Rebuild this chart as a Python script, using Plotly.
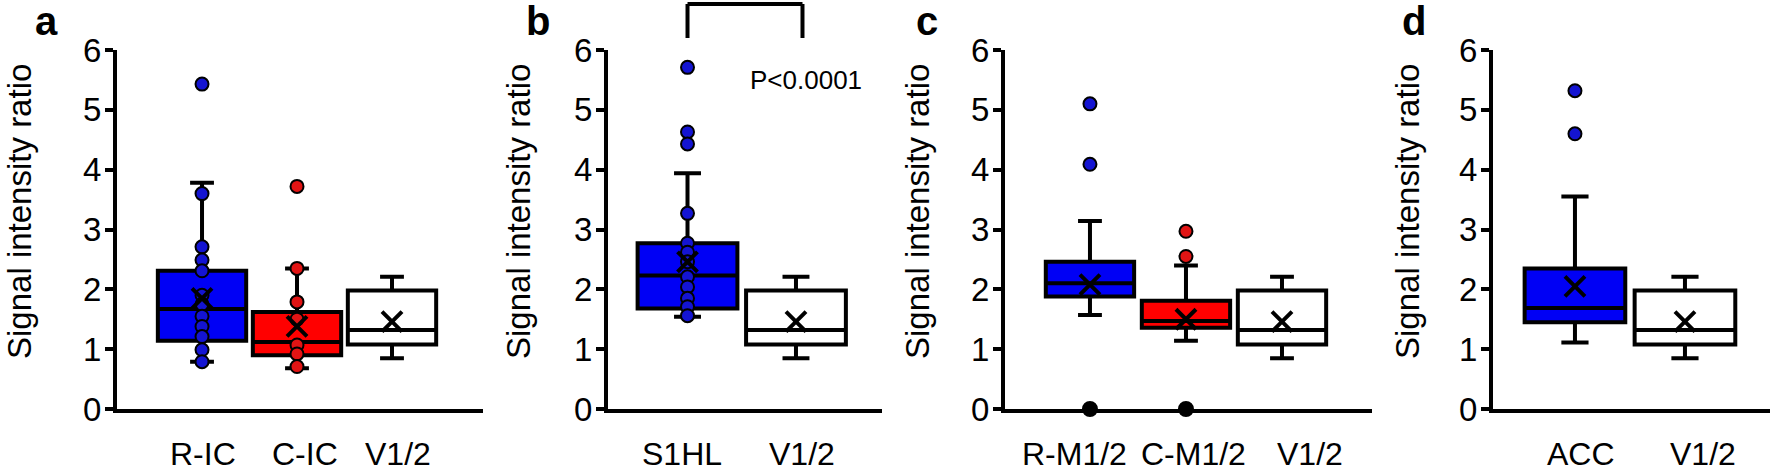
import plotly.graph_objects as go

FONT = "Liberation Sans, Arial, sans-serif"
BLUE = "rgb(0,0,245)"
RED = "rgb(255,0,0)"
WHITE = "white"
BLUE_PT = "rgb(20,20,210)"
RED_PT = "rgb(225,20,20)"

# ---------------- data ----------------
# panel a
cats_a = ["R-IC", "C-IC", "V1/2"]
q1_a = [1.14, 0.90, 1.08]
med_a = [1.67, 1.12, 1.32]
q3_a = [2.31, 1.62, 1.98]
lo_a = [0.79, 0.68, 0.85]
hi_a = [3.78, 2.35, 2.21]
mean_a = [1.85, 1.38, 1.46]
pts_a_ric = [5.43, 3.60, 2.71, 2.49, 2.31, 1.90, 1.75, 1.55, 1.38, 1.21, 0.99, 0.79]
pts_a_cic = [3.72, 2.35, 1.79, 1.50, 1.07, 0.92, 0.71]

# panel b
cats_b = ["S1HL", "V1/2"]
q1_b = [1.68, 1.08]
med_b = [2.23, 1.32]
q3_b = [2.77, 1.98]
lo_b = [1.54, 0.85]
hi_b = [3.94, 2.21]
mean_b = [2.46, 1.46]
pts_b_s1hl = [5.71, 4.63, 4.43, 3.27, 2.77, 2.62, 2.46, 2.21, 2.04, 1.85, 1.71, 1.56]
p_text = "P<0.0001"

# panel c
cats_c = ["R-M1/2", "C-M1/2", "V1/2"]
q1_c = [1.88, 1.36, 1.08]
med_c = [2.10, 1.47, 1.32]
q3_c = [2.46, 1.81, 1.98]
lo_c = [1.57, 1.14, 0.85]
hi_c = [3.14, 2.40, 2.21]
mean_c = [2.08, 1.50, 1.46]
out_c_rm = [5.10, 4.09]
out_c_cm = [2.97, 2.55]
zero_c_cats = ["R-M1/2", "C-M1/2"]
zero_c = [0.0, 0.0]

# panel d
cats_d = ["ACC", "V1/2"]
q1_d = [1.45, 1.08]
med_d = [1.69, 1.32]
q3_d = [2.35, 1.98]
lo_d = [1.11, 0.85]
hi_d = [3.55, 2.21]
mean_d = [2.05, 1.46]
out_d_acc = [5.32, 4.60]

y_ticks = [0, 1, 2, 3, 4, 5, 6]
y_title = "Signal intensity ratio"
panel_letters = ["a", "b", "c", "d"]

# ---------------- layout geometry ----------------
W, H = 1770, 473
Y_TOP_PX, Y_BOT_PX = 50, 409
ydom = [1 - Y_BOT_PX / H, 1 - Y_TOP_PX / H]

panels = [
    dict(cats=cats_a, q1=q1_a, med=med_a, q3=q3_a, lo=lo_a, hi=hi_a, mean=mean_a,
         fills=[BLUE, RED, WHITE], xpx=(117, 483), rng=[-0.895, 2.958], bw=0.93,
         label_dx=[0.01, 0.08, 0.06], title_x=20, letter_x=46),
    dict(cats=cats_b, q1=q1_b, med=med_b, q3=q3_b, lo=lo_b, hi=hi_b, mean=mean_b,
         fills=[BLUE, WHITE], xpx=(608, 882), rng=[-0.733, 1.793], bw=0.92,
         label_dx=[-0.055, 0.055], title_x=519, letter_x=538),
    dict(cats=cats_c, q1=q1_c, med=med_c, q3=q3_c, lo=lo_c, hi=hi_c, mean=mean_c,
         fills=[BLUE, RED, WHITE], xpx=(1005, 1372), rng=[-0.885, 2.9375], bw=0.92,
         label_dx=[-0.16, 0.08, 0.29], title_x=918, letter_x=927),
    dict(cats=cats_d, q1=q1_d, med=med_d, q3=q3_d, lo=lo_d, hi=hi_d, mean=mean_d,
         fills=[BLUE, WHITE], xpx=(1493, 1770), rng=[-0.745, 1.773], bw=0.915,
         label_dx=[0.055, 0.16], title_x=1408, letter_x=1414),
]

fig = go.Figure()
layout = dict(
    width=W, height=H, autosize=False,
    margin=dict(l=0, r=0, t=0, b=0, autoexpand=False),
    paper_bgcolor="white", plot_bgcolor="white",
    showlegend=False,
    font=dict(family=FONT, color="black", size=33),
    annotations=[], shapes=[],
)


def pts(xref, yref, cat, vals, color, size=13):
    return go.Scatter(x=[cat] * len(vals), y=vals, mode="markers",
                      marker=dict(size=size, color=color, line=dict(color="black", width=2)),
                      cliponaxis=False, xaxis=xref, yaxis=yref, hoverinfo="skip")


for i, p in enumerate(panels):
    n = i + 1
    xr = "x" if n == 1 else f"x{n}"
    yr = "y" if n == 1 else f"y{n}"
    xk = "xaxis" if n == 1 else f"xaxis{n}"
    yk = "yaxis" if n == 1 else f"yaxis{n}"
    # boxes
    for j, c in enumerate(p["cats"]):
        fig.add_trace(go.Box(
            x=[c], q1=[p["q1"][j]], median=[p["med"][j]], q3=[p["q3"][j]],
            lowerfence=[p["lo"][j]], upperfence=[p["hi"][j]],
            boxpoints=False, fillcolor=p["fills"][j],
            line=dict(color="black", width=4), width=p["bw"], whiskerwidth=0.27,
            xaxis=xr, yaxis=yr, hoverinfo="skip"))
        # category label
        layout["annotations"].append(dict(
            text=c, xref=xr, yref="paper", x=j + p["label_dx"][j], y=1 - 454 / H,
            xanchor="center", yanchor="middle", showarrow=False,
            font=dict(size=32)))
    layout[xk] = dict(
        domain=[p["xpx"][0] / W, p["xpx"][1] / W], anchor=yr,
        type="category", categoryarray=p["cats"], range=p["rng"],
        showline=True, linecolor="black", linewidth=4, ticks="",
        showticklabels=False,
        showgrid=False, zeroline=False, automargin=False, fixedrange=True)
    layout[yk] = dict(
        domain=ydom, anchor=xr, range=[0, 6], tickvals=y_ticks,
        showline=True, linecolor="black", linewidth=4,
        ticks="outside", ticklen=8, tickwidth=3.5, tickcolor="black",
        showgrid=False, zeroline=False, tickfont=dict(size=33),
        automargin=False,
        ticklabelstandoff=-3, fixedrange=True)
    layout["annotations"].append(dict(
        text=y_title, textangle=-90, xref="paper", yref="paper",
        x=p["title_x"] / W, y=1 - 212 / H, xanchor="center", yanchor="middle",
        showarrow=False, font=dict(size=33)))
    layout["annotations"].append(dict(
        text=f"<b>{panel_letters[i]}</b>", xref="paper", yref="paper",
        x=p["letter_x"] / W, y=1 - 21 / H, xanchor="center", yanchor="middle",
        showarrow=False, font=dict(size=40)))

# points
fig.add_trace(pts("x", "y", "R-IC", pts_a_ric, BLUE_PT))
fig.add_trace(pts("x", "y", "C-IC", pts_a_cic, RED_PT))
fig.add_trace(pts("x2", "y2", "S1HL", pts_b_s1hl, BLUE_PT))
fig.add_trace(pts("x3", "y3", "R-M1/2", out_c_rm, BLUE_PT))
fig.add_trace(pts("x3", "y3", "C-M1/2", out_c_cm, RED_PT))
fig.add_trace(pts("x3", "y3", zero_c_cats[0], [zero_c[0]], "black", 14))
fig.add_trace(pts("x3", "y3", zero_c_cats[1], [zero_c[1]], "black", 14))
fig.add_trace(pts("x4", "y4", "ACC", out_d_acc, BLUE_PT))

# means (X markers)
for i, p in enumerate(panels):
    n = i + 1
    xr = "x" if n == 1 else f"x{n}"
    yr = "y" if n == 1 else f"y{n}"
    fig.add_trace(go.Scatter(
        x=p["cats"], y=p["mean"], mode="markers",
        marker=dict(symbol="x-thin", size=20, color="black",
                    line=dict(color="black", width=4)),
        cliponaxis=False, xaxis=xr, yaxis=yr, hoverinfo="skip"))

# significance bracket in panel b
br_top = 1 - 4 / H
br_bot = 1 - 38 / H
bx0, bx1 = 0, 1.06
for (x0, y0, x1, y1) in [(bx0, br_bot, bx0, br_top), (bx0, br_top, bx1, br_top),
                         (bx1, br_top, bx1, br_bot)]:
    layout["shapes"].append(dict(type="line", xref="x2", yref="paper",
                                 x0=x0, y0=y0, x1=x1, y1=y1,
                                 line=dict(color="black", width=4)))
layout["annotations"].append(dict(
    text=p_text, xref="x2", yref="y2", x=1.09, y=5.50,
    xanchor="center", yanchor="middle", showarrow=False, font=dict(size=26)))

fig.update_layout(**layout)
fig.write_html("out.html", config={"displayModeBar": False},
               post_script="document.body.style.margin='0px';document.body.style.overflow='hidden';")
